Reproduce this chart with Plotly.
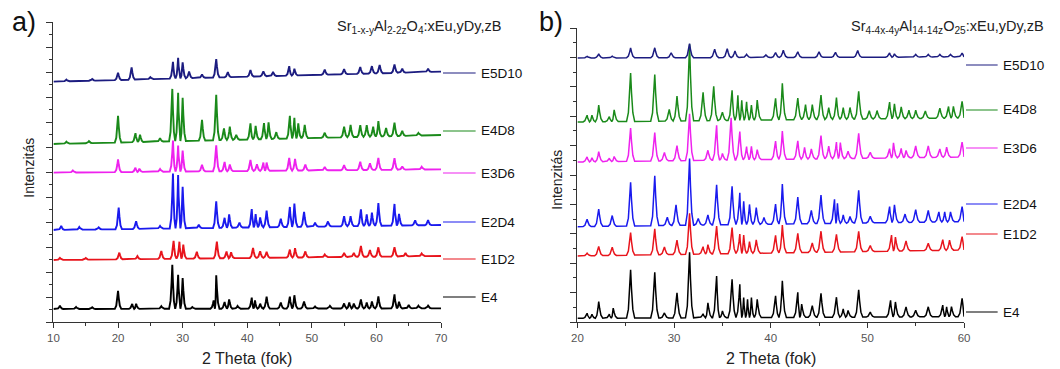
import plotly.graph_objects as go

W, H = 1060, 369

# ---------------- DATA ----------------
names = ["E4", "E1D2", "E2D4", "E3D6", "E4D8", "E5D10"]
colors = ["#000000", "#e8141c", "#1a1aee", "#ee22ee", "#1a8a1a", "#1c1c80"]

# Panel a: Sr1-x-yAl2-2zO4  (baseline start/end, peaks as (2theta, height))
a_base = {"E4": (39, 41), "E1D2": (186, 198), "E2D4": (276, 291),
          "E3D6": (448, 458), "E4D8": (534, 561), "E5D10": (721, 751)}
a_peaks = {
    "E4": [(11.0, 10), (13.5, 6), (16.0, 5), (20.0, 54), (22.2, 15), (22.8, 15), (26.7, 8),
           (28.4, 132), (29.3, 102), (30.0, 92), (31.5, 5), (34.8, 25), (35.2, 100), (36.5, 20),
           (37.2, 28), (38.5, 8), (40.7, 33), (41.2, 25), (42.0, 15), (43.0, 36), (45.2, 18),
           (46.6, 36), (47.3, 40), (48.8, 21), (50.5, 6), (52.8, 8), (55.0, 15), (55.8, 18),
           (56.5, 15), (57.6, 27), (58.5, 18), (59.3, 21), (60.3, 36), (62.8, 42), (63.5, 20),
           (65.0, 10), (66.5, 8), (68.0, 8)],
    "E1D2": [(11.0, 6), (15.0, 5), (20.2, 20), (23.0, 9), (26.7, 24), (28.6, 54), (29.5, 51),
             (30.1, 42), (32.2, 20), (35.3, 50), (36.8, 20), (37.5, 18), (40.9, 30), (42.0, 20),
             (43.0, 18), (46.6, 24), (47.4, 28), (49.0, 18), (52.0, 8), (55.0, 12), (56.5, 12),
             (57.6, 33), (59.0, 20), (60.3, 28), (62.8, 28), (64.5, 10), (67.0, 8)],
    "E2D4": [(11.2, 12), (14.0, 8), (17.0, 6), (20.1, 65), (22.8, 23), (26.5, 8), (28.5, 165),
             (29.3, 160), (30.0, 125), (32.5, 10), (35.2, 80), (36.5, 30), (37.2, 40), (38.8, 15),
             (40.7, 55), (41.3, 40), (42.0, 30), (43.0, 50), (45.2, 25), (46.6, 60), (47.3, 70),
             (48.8, 45), (50.5, 12), (52.5, 15), (55.0, 30), (56.0, 30), (57.6, 50), (58.5, 35),
             (59.3, 40), (60.3, 68), (62.8, 65), (63.5, 35), (66.0, 15), (68.0, 15)],
    "E3D6": [(13.0, 6), (20.0, 38), (22.7, 13), (23.3, 10), (26.5, 8), (28.5, 93), (29.3, 78),
             (30.0, 63), (33.0, 20), (35.2, 78), (36.5, 28), (37.3, 20), (40.5, 33), (41.5, 20),
             (42.5, 25), (43.0, 25), (46.5, 38), (47.4, 35), (49.0, 18), (52.0, 10), (55.0, 15),
             (57.5, 25), (59.0, 20), (60.3, 36), (62.8, 35), (64.0, 10), (67.0, 8)],
    "E4D8": [(12.0, 6), (15.5, 6), (20.0, 80), (22.7, 27), (23.4, 22), (26.5, 10), (28.4, 157),
             (29.3, 145), (30.0, 130), (33.0, 62), (35.2, 136), (36.4, 35), (37.3, 40), (38.3, 15),
             (40.5, 48), (41.3, 40), (42.6, 48), (43.3, 50), (44.5, 20), (46.6, 68), (47.3, 62),
             (47.9, 45), (48.9, 40), (52.0, 15), (55.0, 32), (56.0, 37), (57.5, 35), (58.5, 35),
             (59.5, 30), (60.3, 46), (61.5, 25), (62.8, 40), (64.0, 15), (66.5, 8)],
    "E5D10": [(12.0, 5), (16.0, 5), (20.0, 22), (22.1, 37), (25.0, 6), (28.5, 50), (29.3, 62),
              (30.0, 48), (31.0, 20), (33.0, 10), (35.2, 55), (37.0, 15), (40.5, 20), (42.5, 15),
              (44.0, 12), (46.5, 28), (47.3, 20), (52.0, 15), (55.0, 15), (57.5, 20), (59.3, 22),
              (60.5, 25), (62.8, 25), (64.0, 12), (68.0, 10)],
}
a_label_y = {"E5D10": 747, "E4D8": 573, "E3D6": 447, "E2D4": 300, "E1D2": 189, "E4": 75}

# Panel b: Sr4-4x-4yAl14-14zO25
b_base = {"E4": (11, 16), "E1D2": (198, 216), "E2D4": (286, 301),
          "E3D6": (480, 495), "E4D8": (600, 612), "E5D10": (792, 795)}
b_peaks = {
    "E4": [(21.0, 15), (21.5, 12), (22.2, 50), (23.3, 12), (23.7, 30), (25.5, 145), (28.0, 137),
           (29.0, 15), (30.3, 75), (31.6, 197), (33.0, 12), (33.5, 45), (34.4, 125), (35.0, 20),
           (36.0, 115), (36.8, 100), (37.2, 60), (37.6, 55), (38.0, 60), (38.6, 55), (40.5, 65),
           (41.2, 110), (42.8, 75), (43.2, 40), (44.3, 35), (45.2, 72), (46.8, 60), (47.5, 25),
           (48.0, 20), (49.1, 82), (50.3, 15), (52.4, 50), (52.9, 45), (54.0, 30), (55.0, 20),
           (56.3, 30), (57.8, 35), (58.2, 30), (58.7, 30), (59.8, 55)],
    "E1D2": [(21.0, 8), (22.2, 28), (23.6, 25), (25.5, 68), (28.0, 78), (29.0, 23), (30.3, 43),
             (31.6, 123), (33.0, 22), (33.5, 28), (34.4, 83), (36.0, 78), (36.8, 58), (37.2, 55),
             (37.8, 35), (38.5, 40), (40.5, 53), (41.2, 83), (42.8, 58), (44.3, 28), (45.2, 63),
             (46.8, 53), (49.1, 61), (50.3, 18), (52.5, 48), (52.9, 42), (54.0, 30), (56.3, 22),
             (57.8, 32), (58.5, 30), (59.8, 40)],
    "E2D4": [(21.0, 22), (22.2, 52), (23.6, 32), (25.5, 131), (28.0, 150), (29.3, 25), (30.2, 62),
             (31.6, 200), (32.5, 20), (33.5, 30), (34.4, 120), (36.0, 115), (36.8, 95), (37.2, 70),
             (37.8, 60), (38.5, 50), (39.3, 20), (40.5, 60), (41.2, 120), (42.8, 80), (44.2, 40),
             (45.2, 85), (46.6, 72), (46.9, 60), (47.5, 25), (48.2, 20), (49.1, 98), (50.3, 20),
             (52.3, 48), (52.8, 53), (53.9, 25), (55.0, 38), (56.3, 35), (57.4, 30), (58.0, 30),
             (58.6, 30), (59.8, 45)],
    "E3D6": [(21.0, 15), (21.5, 12), (22.2, 30), (23.3, 10), (23.8, 15), (25.5, 100), (28.0, 85),
             (29.0, 25), (30.3, 45), (31.6, 140), (33.5, 30), (34.4, 105), (35.0, 20), (35.9, 127),
             (36.8, 85), (37.5, 40), (38.0, 40), (38.6, 30), (40.5, 55), (41.2, 85), (42.8, 55),
             (43.5, 35), (44.2, 30), (45.2, 70), (46.0, 38), (46.8, 50), (47.2, 48), (48.0, 22),
             (49.1, 75), (50.3, 18), (52.3, 28), (52.7, 45), (53.5, 28), (54.0, 22), (55.0, 35),
             (56.3, 35), (57.5, 25), (58.2, 30), (59.8, 45)],
    "E4D8": [(21.0, 20), (21.5, 20), (22.2, 50), (23.3, 15), (23.8, 35), (25.5, 145), (28.0, 140),
             (29.5, 35), (30.3, 75), (31.6, 230), (33.0, 85), (34.1, 103), (35.0, 25), (36.0, 90),
             (36.6, 75), (37.0, 60), (37.5, 55), (38.0, 45), (38.6, 60), (40.5, 65), (41.2, 110),
             (42.8, 65), (43.6, 45), (44.3, 45), (45.2, 73), (46.0, 35), (46.8, 65), (47.5, 35),
             (48.2, 35), (49.1, 83), (50.2, 25), (51.0, 25), (52.3, 50), (52.8, 45), (53.5, 35),
             (54.3, 25), (55.0, 25), (56.0, 22), (57.5, 30), (58.4, 35), (58.9, 35), (59.8, 50)],
    "E5D10": [(21.0, 5), (22.2, 12), (23.6, 5), (25.5, 30), (28.0, 30), (29.7, 15), (31.6, 42),
              (34.2, 25), (35.5, 27), (36.3, 20), (37.5, 10), (39.5, 8), (40.5, 15), (41.3, 22),
              (42.8, 17), (45.0, 17), (46.7, 15), (49.0, 20), (52.3, 13), (52.8, 10), (55.0, 8),
              (56.3, 8), (57.5, 8), (58.6, 8), (59.8, 12)],
}
b_label_y = {"E5D10": 771, "E4D8": 636, "E3D6": 522, "E2D4": 354, "E1D2": 264, "E4": 30}

a_xrange, a_yrange = (10, 70), (0, 900)
b_xrange, b_yrange = (20, 60), (0, 882)

# ------------- layout geometry (pixels) -------------
A_L, A_R, A_T, A_B = 48, 440, 22, 322
B_L, B_R, B_T, B_B = 578, 969, 28, 322


def build(base, peaks, xr, halfw):
    """Polyline for a pattern: baseline (linear drift) plus peak vertices."""
    b0, b1 = base
    bl = lambda x: b0 + (b1 - b0) * (x - xr[0]) / (xr[1] - xr[0])
    pk = sorted(peaks)
    xs, ys = [xr[0]], [bl(xr[0])]
    for i, (p, h) in enumerate(pk):
        gl = p - pk[i - 1][0] if i > 0 else 9
        gr = pk[i + 1][0] - p if i < len(pk) - 1 else 9
        wl = min(halfw, 0.5 * gl)
        wr = min(halfw, 0.5 * gr)
        for x, f in ((p - wl, 0.0), (p - wl * 0.55, 0.18), (p - wl * 0.22, 0.6), (p, 1.0),
                     (p + wr * 0.22, 0.6), (p + wr * 0.55, 0.18), (p + wr, 0.0)):
            x = min(max(x, xr[0]), xr[1])
            xs.append(x)
            ys.append(bl(x) + f * h)
    xs.append(xr[1]); ys.append(bl(xr[1]))
    return xs, ys


fig = go.Figure()
for n, c in zip(names, colors):
    x, y = build(a_base[n], a_peaks[n], a_xrange, 0.5)
    fig.add_trace(go.Scatter(x=x, y=y, mode="lines", line=dict(color=c, width=1.9),
                             xaxis="x", yaxis="y", showlegend=False, hoverinfo="skip"))
    x, y = build(b_base[n], b_peaks[n], b_xrange, 0.42)
    fig.add_trace(go.Scatter(x=x, y=y, mode="lines", line=dict(color=c, width=1.5),
                             xaxis="x2", yaxis="y2", showlegend=False, hoverinfo="skip"))

font = "Liberation Sans, Arial, sans-serif"
axcommon = dict(showline=True, linecolor="#333", linewidth=1, ticks="outside", tickcolor="#333",
                showgrid=False, zeroline=False, mirror=False,
                tickfont=dict(family=font, size=11.5, color="#555"))

fig.update_layout(
    width=W, height=H, margin=dict(l=0, r=0, t=0, b=0),
    paper_bgcolor="white", plot_bgcolor="white",
    xaxis=dict(domain=[A_L / W, A_R / W], range=list(a_xrange), anchor="y", dtick=10, tick0=10,
               ticklen=5, minor=dict(dtick=5, ticklen=3, ticks="outside", tickcolor="#333"), **axcommon),
    yaxis=dict(domain=[1 - A_B / H, 1 - A_T / H], range=list(a_yrange), anchor="x", dtick=75,
               ticklen=6, showticklabels=False,
               minor=dict(dtick=37.5, ticklen=3, ticks="outside", tickcolor="#333"), **axcommon),
    xaxis2=dict(domain=[B_L / W, B_R / W], range=list(b_xrange), anchor="y2", dtick=10, tick0=20,
                ticklen=5, minor=dict(dtick=5, ticklen=3, ticks="outside", tickcolor="#333"), **axcommon),
    yaxis2=dict(domain=[1 - B_B / H, 1 - B_T / H], range=list(b_yrange), anchor="x2", dtick=88.2,
                ticklen=6, showticklabels=False,
                minor=dict(dtick=44.1, ticklen=3, ticks="outside", tickcolor="#333"), **axcommon),
)

shapes, ann = [], []


def labels(label_y, yr, xa, ya, xl):
    for n, c in zip(names, colors):
        fy = (label_y[n] - yr[0]) / (yr[1] - yr[0])
        shapes.append(dict(type="line", xref=f"{xa} domain", yref=f"{ya} domain",
                           x0=1.005, x1=xl, y0=fy, y1=fy, line=dict(color=c, width=1.2)))
        ann.append(dict(text=n, xref=f"{xa} domain", yref=f"{ya} domain", x=xl + 0.008, y=fy,
                        xanchor="left", yanchor="middle", showarrow=False,
                        font=dict(family=font, size=13.5, color="#111")))


labels(a_label_y, a_yrange, "x", "y", 1 + 35 / (A_R - A_L))
labels(b_label_y, b_yrange, "x2", "y2", 1 + 34 / (B_R - B_L))

txt = dict(showarrow=False, xref="paper", yref="paper", font=dict(family=font, size=14.5, color="#222"))
ax_t = dict(showarrow=False, xref="paper", yref="paper", font=dict(family=font, size=16, color="#222"))
ylab = dict(showarrow=False, xref="paper", yref="paper", font=dict(family=font, size=14, color="#222"))
big = dict(showarrow=False, xref="paper", yref="paper", font=dict(family=font, size=27, color="#111"))
ann += [
    dict(text="a)", x=4 / W, y=1 - 22 / H, xanchor="left", yanchor="middle", **big),
    dict(text="b)", x=537 / W, y=1 - 22 / H, xanchor="left", yanchor="middle", **big),
    dict(text="Sr<sub>1-x-y</sub>Al<sub>2-2z</sub>O<sub>4</sub>:xEu,yDy,zB", x=333 / W, y=1 - 27 / H,
         xanchor="left", yanchor="middle", **txt),
    dict(text="Sr<sub>4-4x-4y</sub>Al<sub>14-14z</sub>O<sub>25</sub>:xEu,yDy,zB", x=853 / W, y=1 - 27 / H,
         xanchor="left", yanchor="middle", **txt),
    dict(text="2 Theta (fok)", x=(A_L + A_R) / 2 / W, y=1 - 358 / H, xanchor="center", yanchor="middle", **ax_t),
    dict(text="2 Theta (fok)", x=(B_L + B_R) / 2 / W, y=1 - 358 / H, xanchor="center", yanchor="middle", **ax_t),
    dict(text="Intenzitás", x=23 / W, y=1 - 168 / H, xanchor="center", yanchor="middle", textangle=-90, **ylab),
    dict(text="Intenzitás", x=557 / W, y=1 - 180 / H, xanchor="center", yanchor="middle", textangle=-90, **ylab),
]
fig.update_layout(shapes=shapes, annotations=ann)
fig.write_html("out.html")
